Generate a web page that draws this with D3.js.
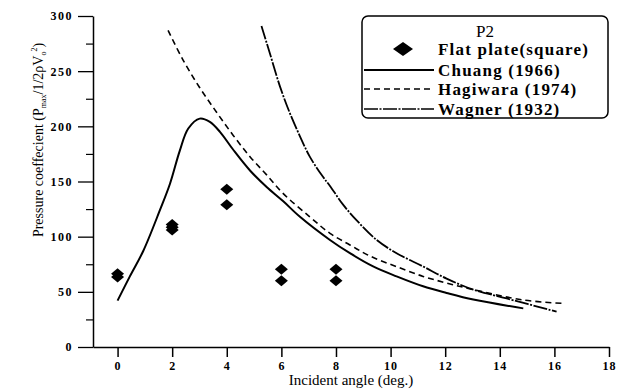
<!DOCTYPE html>
<html>
<head>
<meta charset="utf-8">
<script src="https://cdn.jsdelivr.net/npm/d3@7"></script>
<style>
  html, body { margin: 0; padding: 0; background: #fff; }
  svg { display: block; }
  text { font-family: "Liberation Serif", "DejaVu Serif", serif; fill: #000; }
</style>
</head>
<body>
<svg id="chart" width="624" height="390"></svg>
<script>
// ---- data ----
const xTicks = [0, 2, 4, 6, 8, 10, 12, 14, 16, 18];
const yTicks = [0, 50, 100, 150, 200, 250, 300];
const yMinorTicks = [25, 75, 125, 175, 225, 275];

const flatX = [0, 0, 2, 2, 2, 4, 4, 6, 6, 8, 8];
const flatY = [66.5, 63.5, 111, 108.5, 106, 143, 129, 70.5, 60, 70.5, 60];

const chuangX = [0.0, 0.45, 0.94, 1.55, 1.92, 2.28, 2.59, 3.01, 3.38, 3.75, 4.23, 4.85, 5.46, 6.07, 6.68, 7.78, 8.51, 9.36, 10.22, 11.19, 12.05, 13.03, 14.86];
const chuangY = [42, 64, 87, 124, 148, 178, 198, 207, 204, 195, 179, 160, 145, 132, 118, 97, 85, 73, 64, 55, 49, 43, 35];

const hagiwaraX = [1.85, 2.4, 3.01, 3.62, 4.23, 4.85, 5.46, 6.07, 7.04, 7.78, 8.51, 9.24, 10.2, 11.19, 12.05, 13.03, 14.86, 16.26];
const hagiwaraY = [287, 260, 235, 213, 192, 172.5, 156, 139, 118, 103, 92.5, 82.5, 73, 64, 58, 52, 42.6, 39.6];

const wagnerX = [5.27, 5.58, 5.95, 6.31, 6.68, 7.04, 7.53, 7.78, 8.26, 8.75, 9.49, 10.22, 11.19, 12.05, 13.03, 14.25, 16.08];
const wagnerY = [291, 266, 236, 212, 191, 172.5, 154, 146, 129, 115, 97, 85, 73, 62, 52, 44, 32];

const legendTitle = "P2";
const legendLabels = ["Flat plate(square)", "Chuang (1966)", "Hagiwara (1974)", "Wagner (1932)"];

// ---- chart ----
const svg = d3.select("#chart");
const x = d3.scaleLinear().domain([-0.9, 18]).range([93, 609]);
const y = d3.scaleLinear().domain([0, 300]).range([347, 16]);

// axes
const xAxis = d3.axisBottom(x).tickValues(xTicks).tickSize(10).tickSizeOuter(0).tickPadding(4);
const gx = svg.append("g").attr("transform", `translate(0,${y(0)})`).call(xAxis);
gx.select(".domain").attr("stroke-width", 1.5);
gx.selectAll(".tick line").attr("stroke-width", 1.5);
gx.selectAll(".tick text").style("font-size", "12px").style("font-weight", "bold").style("letter-spacing", "1px");

const yAxis = d3.axisLeft(y).tickValues(yTicks).tickSize(15).tickSizeOuter(0).tickPadding(5);
const gy = svg.append("g").attr("transform", `translate(${x(-0.9)},0)`).call(yAxis);
gy.select(".domain").attr("stroke-width", 1.5);
gy.selectAll(".tick line").attr("stroke-width", 1.3);
gy.selectAll(".tick text").style("font-size", "12px").style("font-weight", "bold").style("letter-spacing", "1.5px");

const yMinor = d3.axisLeft(y).tickValues(yMinorTicks).tickSize(7).tickSizeOuter(0).tickFormat("");
const gym = svg.append("g").attr("transform", `translate(${x(-0.9)},0)`).call(yMinor);
gym.select(".domain").remove();
gym.selectAll(".tick line").attr("stroke-width", 1.2);

// axis titles
svg.append("text")
  .attr("x", (x(-0.9) + x(18)) / 2)
  .attr("y", 385)
  .attr("text-anchor", "middle")
  .style("font-size", "15px")
  .text("Incident angle (deg.)");

const yt = svg.append("text")
  .attr("transform", "translate(43,140) rotate(-90)")
  .attr("text-anchor", "middle")
  .style("font-size", "14px");
yt.append("tspan").text("Pressure coeffecient (P");
yt.append("tspan").attr("dy", 3).style("font-size", "8px").text("max");
yt.append("tspan").attr("dy", -3).text("/1/2ρV");
yt.append("tspan").attr("dy", 3).style("font-size", "8px").text("o");
yt.append("tspan").attr("dy", -9).style("font-size", "8px").text("2");
yt.append("tspan").attr("dy", 6).text(")");

// lines
const line = d3.line().x(d => x(d[0])).y(d => y(d[1])).curve(d3.curveCatmullRom.alpha(0.5));
const zip = (a, b) => a.map((v, i) => [v, b[i]]);

svg.append("path").datum(zip(chuangX, chuangY))
  .attr("d", line).attr("fill", "none").attr("stroke", "#000").attr("stroke-width", 2);
svg.append("path").datum(zip(hagiwaraX, hagiwaraY))
  .attr("d", line).attr("fill", "none").attr("stroke", "#000").attr("stroke-width", 1.6)
  .attr("stroke-dasharray", "6,4");
svg.append("path").datum(zip(wagnerX, wagnerY))
  .attr("d", line).attr("fill", "none").attr("stroke", "#000").attr("stroke-width", 1.8)
  .attr("stroke-dasharray", "14,1.5,2,1.5");

// diamonds
const diamond = "M0,-5.5L6.5,0L0,5.5L-6.5,0Z";
svg.append("g").selectAll("path").data(zip(flatX, flatY)).join("path")
  .attr("d", diamond)
  .attr("transform", d => `translate(${x(d[0])},${y(d[1])})`)
  .attr("fill", "#000");

// legend
const lg = svg.append("g");
lg.append("rect").attr("x", 362).attr("y", 16).attr("width", 246).attr("height", 102)
  .attr("rx", 6).attr("fill", "#fff").attr("stroke", "#000").attr("stroke-width", 1.5);
lg.append("text").attr("x", 485).attr("y", 37).attr("text-anchor", "middle")
  .style("font-size", "17px").text(legendTitle);
const rowsY = [49, 70, 89, 109];
lg.append("path").attr("d", "M0,-7L10,0L0,7L-10,0Z").attr("transform", `translate(403,${rowsY[0]})`).attr("fill", "#000");
const dashes = [null, null, "6,4", "14,1.5,2,1.5"];
[1, 2, 3].forEach(i => {
  lg.append("line").attr("x1", 364).attr("x2", 434).attr("y1", rowsY[i]).attr("y2", rowsY[i])
    .attr("stroke", "#000").attr("stroke-width", i === 1 ? 2 : 1.6)
    .attr("stroke-dasharray", dashes[i]);
});
legendLabels.forEach((t, i) => {
  lg.append("text").attr("x", 438).attr("y", rowsY[i] + 6)
    .style("font-size", "17px").style("font-weight", "bold").style("letter-spacing", "1.2px").text(t);
});
</script>
</body>
</html>
